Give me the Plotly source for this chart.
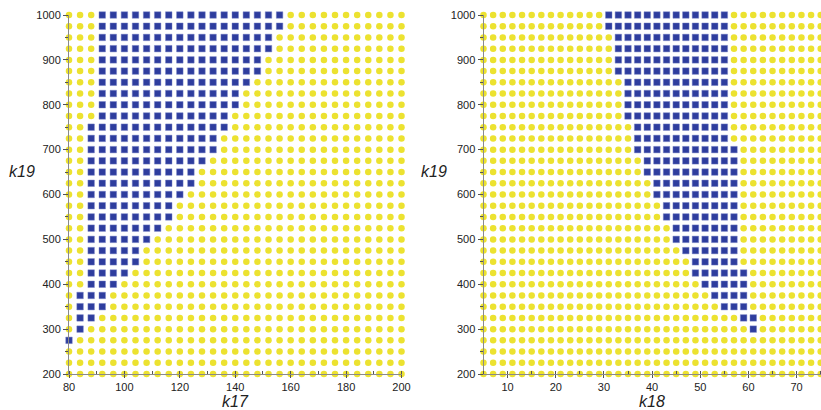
import plotly.graph_objects as go

# ---- grid values ----
k17_values = list(range(80, 201, 4))
k18_values = list(range(5, 76, 2))
k19_values = list(range(200, 1001, 25))

# ---- blue (square) region per k19 row: (min, max) or None ----
left_blue_min = [None, None, None, 80, 84, 84, 84, 84, 88, 88, 88, 88, 88, 88, 88, 88, 88,
                 88, 88, 88, 88, 88, 88, 92, 92, 92, 92, 92, 92, 92, 92, 92, 92]
left_blue_max = [None, None, None, 80, 84, 88, 92, 92, 96, 100, 104, 104, 108, 112, 116, 116, 120,
                 124, 124, 128, 132, 132, 136, 136, 140, 140, 144, 148, 148, 152, 152, 156, 156]
right_blue_min = [None, None, None, None, 61, 59, 55, 53, 51, 49, 49, 47, 45, 45, 43, 43, 41,
                  41, 39, 39, 37, 37, 37, 35, 35, 35, 35, 33, 33, 33, 33, 31, 31]
right_blue_max = [None, None, None, None, 61, 61, 59, 59, 59, 59, 57, 57, 57, 57, 57, 57, 57,
                  57, 57, 57, 57, 55, 55, 55, 55, 55, 55, 55, 55, 55, 55, 55, 55]

YELLOW = "#ECE230"
BLUE = "#2E3D9E"


def split(xvals, mins, maxs):
    yx, yy, bx, by = [], [], [], []
    for i, yv in enumerate(k19_values):
        lo, hi = mins[i], maxs[i]
        for xv in xvals:
            if lo is not None and lo <= xv <= hi:
                bx.append(xv); by.append(yv)
            else:
                yx.append(xv); yy.append(yv)
    return yx, yy, bx, by


fig = go.Figure()
for (xvals, mins, maxs, xa, ya) in [
    (k17_values, left_blue_min, left_blue_max, "x", "y"),
    (k18_values, right_blue_min, right_blue_max, "x2", "y2"),
]:
    yx, yy, bx, by = split(xvals, mins, maxs)
    fig.add_trace(go.Scatter(x=yx, y=yy, mode="markers", xaxis=xa, yaxis=ya,
                             cliponaxis=False, showlegend=False,
                             marker=dict(symbol="circle", size=6.5, color=YELLOW,
                                         line=dict(width=0))))
    fig.add_trace(go.Scatter(x=bx, y=by, mode="markers", xaxis=xa, yaxis=ya,
                             cliponaxis=False, showlegend=False,
                             marker=dict(symbol="square", size=6.5, color=BLUE,
                                         line=dict(width=1, color="rgba(120,130,200,0.45)"))))

W, H = 821, 410
ytop, ybot = 15, 374
ydom = [1 - ybot / H, 1 - ytop / H]

axis_common = dict(showgrid=False, zeroline=False, showline=True, linecolor="#8a8a8a",
                   linewidth=1, ticks="outside", tickcolor="#555",
                   automargin=False,
                   tickfont=dict(family="Liberation Sans, Arial", size=11, color="#222"))

fig.update_layout(
    width=W, height=H, margin=dict(l=0, r=0, t=0, b=0),
    paper_bgcolor="white", plot_bgcolor="white",
    xaxis=dict(domain=[69 / W, 401.5 / W], range=[80, 200], anchor="y",
               tick0=80, dtick=20, ticklen=3,
               minor=dict(ticks="inside", dtick=10, ticklen=3, tickcolor="#555"),
               **axis_common),
    yaxis=dict(domain=ydom, range=[200, 1000], anchor="x", tick0=200, dtick=100, ticklen=5,
               minor=dict(ticks="outside", dtick=50, ticklen=3, tickcolor="#555"),
               **axis_common),
    xaxis2=dict(domain=[483.5 / W, 820.7 / W], range=[5, 75], anchor="y2",
                tick0=10, dtick=10, ticklen=3,
                minor=dict(ticks="inside", dtick=5, tick0=5, ticklen=3, tickcolor="#555"),
                **axis_common),
    yaxis2=dict(domain=ydom, range=[200, 1000], anchor="x2", tick0=200, dtick=100, ticklen=5,
                minor=dict(ticks="outside", dtick=50, ticklen=3, tickcolor="#555"),
                **axis_common),
)

title_font = dict(family="Liberation Sans, Arial", size=16, color="#222")
for text, px, py in [("<i>k17</i>", 235, 401), ("<i>k18</i>", 652, 401),
                     ("<i>k19</i>", 22, 172), ("<i>k19</i>", 434, 172)]:
    fig.add_annotation(text=text, x=px / W, y=1 - py / H, xref="paper", yref="paper",
                       showarrow=False, font=title_font, xanchor="center", yanchor="middle")

fig.write_html("out.html", config={"displayModeBar": False},
               post_script="document.body.style.margin='0px';document.body.style.overflow='hidden';")
